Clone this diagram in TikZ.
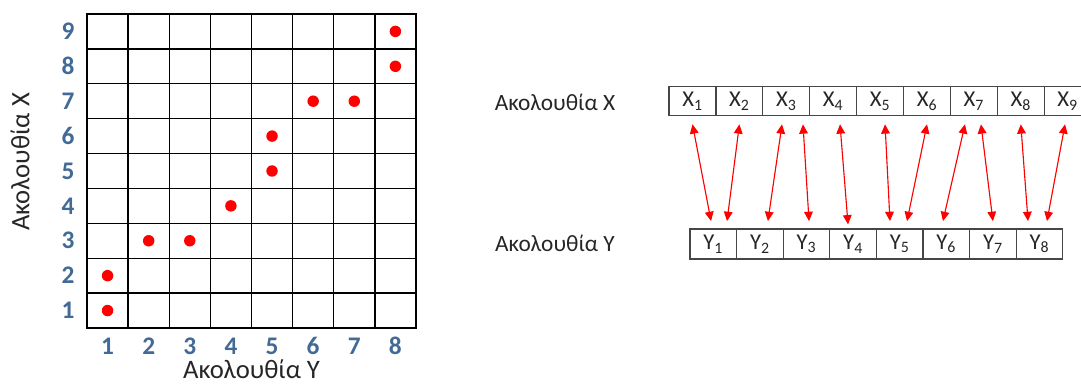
\documentclass[tikz,border=0pt]{standalone}
\usepackage{fontspec}
\setmainfont{Carlito}
\usetikzlibrary{arrows.meta}
\definecolor{dotred}{RGB}{255,0,0}
\definecolor{numblue}{RGB}{66,106,150}
\definecolor{ink}{RGB}{38,38,38}
\definecolor{edge}{RGB}{70,70,70}
\tikzset{
  num/.style={text=numblue, inner sep=0pt, font=\fontsize{19}{22}\selectfont\bfseries},
  axis/.style={text=ink, inner sep=0pt, font=\fontsize{20}{24}\selectfont},
  seqlabel/.style={text=ink, inner sep=0pt, font=\fontsize{17.5}{21}\selectfont},
  cell/.style={draw=edge, line width=0.9pt, text=ink, inner sep=0pt,
              minimum width=35.2pt, minimum height=21.75pt, font=\fontsize{17}{20}\selectfont},
  ycell/.style={cell, minimum width=34.95pt, minimum height=22.5pt},
  dot/.style={fill=dotred},
  link/.style={{Triangle[length=7pt,width=6.5pt]}-{Triangle[length=7pt,width=6.5pt]},
              dotred, line width=0.85pt},
}
\begin{document}
\begin{tikzpicture}[x=0.75pt, y=0.75pt]
        \useasboundingbox (0,0) rectangle (1081,-385);
        % ===================== warping matrix =====================
        \begin{scope}[shift={(87,-328)}, x=30.84pt, y=26.17pt]
          \draw[step=1, black, line width=1pt] (0,0) grid (8,9);
          \draw[black, line width=1pt] (0,0) rectangle (8,9);
          \node[num] (r1) at (-0.46,0.5) {1};
          \node[num] (r2) at (-0.46,1.5) {2};
          \node[num] (r3) at (-0.46,2.5) {3};
          \node[num] (r4) at (-0.46,3.5) {4};
          \node[num] (r5) at (-0.46,4.5) {5};
          \node[num] (r6) at (-0.46,5.5) {6};
          \node[num] (r7) at (-0.46,6.5) {7};
          \node[num] (r8) at (-0.46,7.5) {8};
          \node[num] (r9) at (-0.46,8.5) {9};
          \node[num] (c1) at (0.5,-0.52) {1};
          \node[num] (c2) at (1.5,-0.52) {2};
          \node[num] (c3) at (2.5,-0.52) {3};
          \node[num] (c4) at (3.5,-0.52) {4};
          \node[num] (c5) at (4.5,-0.52) {5};
          \node[num] (c6) at (5.5,-0.52) {6};
          \node[num] (c7) at (6.5,-0.52) {7};
          \node[num] (c8) at (7.5,-0.52) {8};
          \node[axis, anchor=base] (axy) at (4,-1.46) {Ακολουθία Y};
          \node[axis, rotate=90] (axx) at (-1.63,4.76) {Ακολουθία X};
          \fill[dot] (0.5,0.5) circle[radius=4.3pt];
          \fill[dot] (0.5,1.5) circle[radius=4.3pt];
          \fill[dot] (1.5,2.5) circle[radius=4.3pt];
          \fill[dot] (2.5,2.5) circle[radius=4.3pt];
          \fill[dot] (3.5,3.5) circle[radius=4.3pt];
          \fill[dot] (4.5,4.5) circle[radius=4.3pt];
          \fill[dot] (4.5,5.5) circle[radius=4.3pt];
          \fill[dot] (5.5,6.5) circle[radius=4.3pt];
          \fill[dot] (6.5,6.5) circle[radius=4.3pt];
          \fill[dot] (7.5,7.5) circle[radius=4.3pt];
          \fill[dot] (7.5,8.5) circle[radius=4.3pt];
        \end{scope}
        % ===================== sequences =====================
        \node[seqlabel] (labx) at (555,-102) {Ακολουθία X};
        \node[seqlabel] (laby) at (555,-243) {Ακολουθία Y};
        \node[cell] (x1) at (692.5,-101.2)  {X\textsubscript{1}};
        \node[cell] (x2) at (739.4,-101.2)  {X\textsubscript{2}};
        \node[cell] (x3) at (786.3,-101.2)  {X\textsubscript{3}};
        \node[cell] (x4) at (833.2,-101.2)  {X\textsubscript{4}};
        \node[cell] (x5) at (880.1,-101.2)  {X\textsubscript{5}};
        \node[cell] (x6) at (927.0,-101.2)  {X\textsubscript{6}};
        \node[cell] (x7) at (973.9,-101.2)  {X\textsubscript{7}};
        \node[cell] (x8) at (1020.8,-101.2) {X\textsubscript{8}};
        \node[cell] (x9) at (1067.7,-101.2) {X\textsubscript{9}};
        \node[ycell] (y1) at (713.3,-244)  {Y\textsubscript{1}};
        \node[ycell] (y2) at (759.9,-244)  {Y\textsubscript{2}};
        \node[ycell] (y3) at (806.5,-244)  {Y\textsubscript{3}};
        \node[ycell] (y4) at (853.1,-244)  {Y\textsubscript{4}};
        \node[ycell] (y5) at (899.7,-244)  {Y\textsubscript{5}};
        \node[ycell] (y6) at (946.3,-244)  {Y\textsubscript{6}};
        \node[ycell] (y7) at (992.9,-244)  {Y\textsubscript{7}};
        \node[ycell] (y8) at (1039.5,-244) {Y\textsubscript{8}};
        % ===================== alignment =====================
        \draw[link] ([yshift=-6pt]x1.south) -- ([xshift=-1.7pt,yshift=5.5pt]y1.north);
        \draw[link] ([yshift=-6pt]x2.south) -- ([xshift=10.3pt,yshift=5.5pt]y1.north);
        \draw[link] ([xshift=-3.2pt,yshift=-6pt]x3.south) -- ([xshift=6pt,yshift=5.5pt]y2.north);
        \draw[link] ([xshift=12.5pt,yshift=-6pt]x3.south) -- ([xshift=1.9pt,yshift=5.5pt]y3.north);
        \draw[link] ([xshift=5.1pt,yshift=-6pt]x4.south) -- ([xshift=-3.8pt,yshift=3pt]y4.north);
        \draw[link] ([xshift=3.7pt,yshift=-6pt]x5.south) -- ([xshift=-7.3pt,yshift=5.5pt]y5.north);
        \draw[link] ([yshift=-6pt]x6.south) -- ([xshift=5.5pt,yshift=5.5pt]y5.north);
        \draw[link] ([xshift=-6.7pt,yshift=-6pt]x7.south) -- ([xshift=-2.5pt,yshift=5.5pt]y6.north);
        \draw[link] ([xshift=5.3pt,yshift=-6pt]x7.south) -- ([yshift=5.5pt]y7.north);
        \draw[link] ([yshift=-6pt]x8.south) -- ([xshift=-8.6pt,yshift=5.5pt]y8.north);
        \draw[link] ([xshift=-2pt,yshift=-6pt]x9.south) -- ([xshift=5.6pt,yshift=5.5pt]y8.north);
\end{tikzpicture}
\end{document}
